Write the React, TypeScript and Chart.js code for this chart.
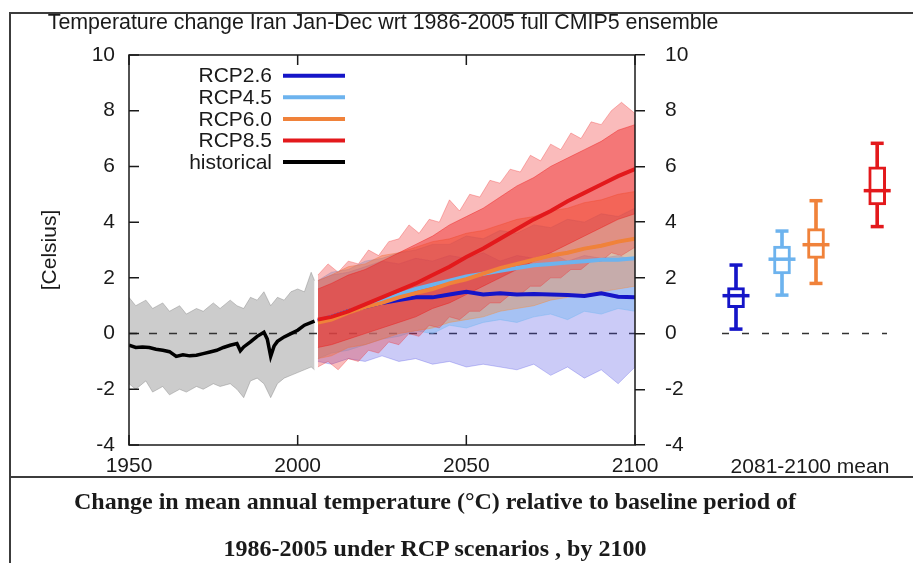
import React, { useEffect, useRef } from 'react';
import { Chart, registerables } from 'chart.js';

Chart.register(...registerables);

const SANS = '"Liberation Sans", Arial, Helvetica, sans-serif';
const SERIF = '"Liberation Serif", "Times New Roman", serif';
const INK = '#1a1a1a';

// ---------- texts ----------
const titleText = 'Temperature change Iran Jan-Dec wrt 1986-2005 full CMIP5 ensemble';
const yAxisTitle = '[Celsius]';
const boxAxisTitle = '2081-2100 mean';
const captionLines = [
  'Change in mean annual temperature (°C) relative to baseline period of',
  '1986-2005 under RCP scenarios , by 2100',
];

// ---------- axes ----------
const xTickValues = [1950, 2000, 2050, 2100];
const yTickMin = -4;
const yTickMax = 10;
const yTickStep = 2;

// ---------- series meta ----------
const scenarioLabels = ['RCP2.6', 'RCP4.5', 'RCP6.0', 'RCP8.5'];
const scenarioColors = ['#1515c8', '#6db3ee', '#f0823a', '#e3191c'];
const scenarioFills = [
  'rgba(70,70,225,0.28)',
  'rgba(110,180,240,0.40)',
  'rgba(245,140,60,0.40)',
  'rgba(240,45,45,0.32)',
];
const rcp85CoreFill = 'rgba(235,25,25,0.42)';
const histFill = 'rgba(120,120,120,0.38)';
const historicalLabel = 'historical';
const legendLabels = ['RCP2.6', 'RCP4.5', 'RCP6.0', 'RCP8.5', 'historical'];

// ---------- historical ----------
const histYears = [1950, 1952, 1954, 1956, 1958, 1960, 1962, 1964, 1966, 1968, 1970, 1972, 1974, 1976, 1978, 1980, 1982, 1983, 1984, 1986, 1988, 1990, 1991, 1992, 1993, 1994, 1996, 1998, 2000, 2002, 2005];
const histMean = [-0.42, -0.5, -0.48, -0.5, -0.56, -0.6, -0.65, -0.82, -0.76, -0.8, -0.78, -0.72, -0.66, -0.6, -0.5, -0.42, -0.36, -0.62, -0.48, -0.3, -0.1, 0.05, -0.2, -0.82, -0.45, -0.28, -0.12, 0.0, 0.12, 0.3, 0.45];
const histBandYears = [1950, 1952, 1955, 1957, 1960, 1962, 1965, 1967, 1970, 1972, 1975, 1977, 1980, 1982, 1984, 1986, 1988, 1990, 1992, 1994, 1996, 1998, 2000, 2002, 2004, 2005];
const histHi = [1.3, 1.0, 1.2, 0.9, 1.1, 0.8, 1.0, 0.7, 0.9, 0.8, 1.1, 0.9, 1.2, 1.0, 0.9, 1.3, 1.2, 1.5, 1.0, 1.3, 1.2, 1.5, 1.6, 1.5, 2.2, 1.9];
const histLo = [-1.8, -2.0, -1.7, -2.1, -1.9, -2.2, -2.0, -2.1, -1.9, -2.0, -1.8, -1.9, -1.8, -2.0, -2.3, -1.7, -1.6, -1.8, -2.3, -1.8, -1.6, -1.5, -1.4, -1.3, -1.2, -1.3];

// ---------- scenario means ----------
const futYears = [2006, 2010, 2015, 2020, 2025, 2030, 2035, 2040, 2045, 2050, 2055, 2060, 2065, 2070, 2075, 2080, 2085, 2090, 2095, 2100];
const rcp26Mean = [0.45, 0.6, 0.8, 0.95, 1.1, 1.2, 1.3, 1.3, 1.4, 1.5, 1.4, 1.45, 1.4, 1.42, 1.4, 1.38, 1.35, 1.45, 1.32, 1.3];
const rcp45Mean = [0.45, 0.6, 0.8, 1.0, 1.2, 1.4, 1.6, 1.75, 1.9, 2.05, 2.15, 2.25, 2.35, 2.45, 2.5, 2.55, 2.6, 2.65, 2.65, 2.7];
const rcp60Mean = [0.4, 0.5, 0.75, 0.95, 1.1, 1.3, 1.45, 1.6, 1.8, 1.95, 2.15, 2.35, 2.5, 2.65, 2.8, 2.9, 3.05, 3.15, 3.3, 3.4];
const rcp85Mean = [0.5, 0.6, 0.8, 1.05, 1.3, 1.55, 1.8, 2.1, 2.4, 2.75, 3.05, 3.4, 3.75, 4.1, 4.4, 4.75, 5.05, 5.35, 5.65, 5.9];

// ---------- scenario ensemble spread ----------
const rcp26Hi = [1.9, 2.1, 2.2, 2.4, 2.6, 2.5, 2.7, 2.6, 2.8, 2.7, 2.9, 2.6, 2.8, 2.7, 2.9, 2.6, 2.8, 2.7, 2.8, 2.6];
const rcp26Lo = [-1.0, -1.1, -0.9, -1.0, -0.8, -1.0, -0.9, -1.1, -1.0, -1.2, -1.1, -1.2, -1.3, -1.1, -1.5, -1.2, -1.6, -1.3, -1.8, -1.2];
const rcp45Hi = [1.9, 2.2, 2.3, 2.6, 2.7, 2.9, 3.0, 3.2, 3.2, 3.5, 3.4, 3.7, 3.6, 3.9, 3.8, 4.1, 4.0, 4.3, 4.2, 4.5];
const rcp45Lo = [-0.9, -0.7, -0.6, -0.4, -0.2, -0.1, 0.1, 0.0, 0.3, 0.2, 0.4, 0.5, 0.4, 0.6, 0.7, 0.5, 0.8, 0.7, 0.9, 0.8];
const rcp60Hi = [1.9, 2.1, 2.4, 2.5, 2.8, 2.9, 3.1, 3.3, 3.4, 3.6, 3.7, 3.9, 4.1, 4.2, 4.4, 4.5, 4.7, 4.8, 5.0, 5.1];
const rcp60Lo = [-0.9, -0.8, -0.5, -0.4, -0.2, 0.0, 0.1, 0.2, 0.4, 0.5, 0.6, 0.8, 0.9, 1.0, 1.2, 1.3, 1.4, 1.5, 1.6, 1.7];
const rcp85BandYears = [2006, 2009, 2012, 2015, 2018, 2021, 2024, 2027, 2030, 2033, 2036, 2039, 2042, 2045, 2048, 2051, 2054, 2057, 2060, 2063, 2066, 2069, 2072, 2075, 2078, 2081, 2084, 2087, 2090, 2093, 2096, 2100];
const rcp85Hi = [2.1, 2.5, 2.2, 2.6, 2.5, 3.0, 2.8, 3.3, 3.4, 3.9, 3.6, 4.1, 4.0, 4.8, 4.4, 5.0, 4.9, 5.5, 5.4, 5.9, 5.8, 6.4, 6.2, 6.8, 6.6, 7.2, 7.0, 7.6, 7.5, 8.0, 8.3, 7.9];
const rcp85Lo = [-1.2, -1.0, -1.3, -0.9, -1.0, -0.6, -0.7, -0.3, -0.4, 0.0, -0.1, 0.3, 0.2, 0.6, 0.5, 0.8, 0.8, 1.1, 1.1, 1.4, 1.4, 1.7, 1.7, 2.0, 2.0, 2.3, 2.3, 2.6, 2.6, 2.9, 2.8, 3.1];
// dense core of the RCP8.5 ensemble
const rcp85CoreHi = [1.6, 1.8, 2.1, 2.3, 2.6, 2.9, 3.2, 3.5, 3.9, 4.2, 4.5, 4.9, 5.3, 5.6, 6.0, 6.3, 6.6, 6.9, 7.3, 7.5];
const rcp85CoreLo = [-0.5, -0.4, -0.2, 0.0, 0.2, 0.4, 0.6, 0.9, 1.1, 1.4, 1.7, 2.0, 2.3, 2.6, 2.9, 3.2, 3.5, 3.8, 4.1, 4.3];

// ---------- zero reference ----------
const zeroLineYears = [1950, 2100];
const zeroBoxSpan = [0.3, 4.425];

// ---------- 2081-2100 box plots ----------
const boxPositions = [0.65, 1.8, 2.65, 4.18];
const boxMin = [0.16, 1.38, 1.8, 3.84];
const boxQ1 = [0.93, 2.14, 2.7, 4.62];
const boxMedian = [1.36, 2.67, 3.19, 5.13];
const boxQ3 = [1.65, 3.14, 3.77, 5.99];
const boxMax = [2.46, 3.68, 4.77, 6.83];

const pts = (xs: number[], ys: number[]) => xs.map((x, i) => ({ x, y: ys[i] }));

function meanLine(label: string, xs: number[], ys: number[], color: string, width: number, order: number) {
  return {
    type: 'line', label, data: pts(xs, ys), borderColor: color, borderWidth: width,
    pointRadius: 0, fill: false, tension: 0, order,
  };
}
function bandLo(xs: number[], ys: number[], fillColor: string, order: number) {
  return {
    type: 'line', label: '', data: pts(xs, ys), borderColor: fillColor, borderWidth: 1,
    pointRadius: 0, fill: false, tension: 0, order,
  };
}
function bandHi(xs: number[], ys: number[], fillColor: string, order: number, target: number) {
  return {
    type: 'line', label: '', data: pts(xs, ys), borderColor: fillColor, borderWidth: 1,
    backgroundColor: fillColor, pointRadius: 0, fill: target, tension: 0, order,
  };
}

const framePlugin = {
  id: 'frameTicksLegend',
  afterDatasetsDraw(chart: any) {
    const { ctx, chartArea: a, scales } = chart;
    ctx.save();
    ctx.strokeStyle = INK;
    ctx.lineWidth = 1.5;
    ctx.strokeRect(a.left, a.top, a.right - a.left, a.bottom - a.top);
    ctx.beginPath();
    const ys = scales.y;
    ys.ticks.forEach((t: any) => {
      const py = ys.getPixelForValue(t.value);
      ctx.moveTo(a.left, py);
      ctx.lineTo(a.left + 10, py);
    });
    const xs = scales.x;
    xs.ticks.forEach((t: any) => {
      const px = xs.getPixelForValue(t.value);
      ctx.moveTo(px, a.top);
      ctx.lineTo(px, a.top + 10);
      ctx.moveTo(px, a.bottom);
      ctx.lineTo(px, a.bottom - 10);
    });
    ctx.stroke();

    // legend
    ctx.font = `21px ${SANS}`;
    ctx.textAlign = 'right';
    ctx.textBaseline = 'middle';
    legendLabels.forEach((lbl, i) => {
      const ds = chart.data.datasets.find((d: any) => d.label === lbl);
      if (!ds) return;
      const y = a.top + 20.7 + i * 21.6;
      ctx.fillStyle = INK;
      ctx.fillText(lbl, a.left + 143, y + 1);
      ctx.strokeStyle = ds.borderColor;
      ctx.lineWidth = 4;
      ctx.beginPath();
      ctx.moveTo(a.left + 154, y);
      ctx.lineTo(a.left + 216, y);
      ctx.stroke();
    });
    ctx.restore();
  },
};

function mainConfig(): any {
  const datasets: any[] = [
    meanLine(historicalLabel, histYears, histMean, '#000000', 3.5, 0), // 0
    meanLine(scenarioLabels[3], futYears, rcp85Mean, scenarioColors[3], 4, 0), // 1
    meanLine(scenarioLabels[2], futYears, rcp60Mean, scenarioColors[2], 4, 1), // 2
    meanLine(scenarioLabels[1], futYears, rcp45Mean, scenarioColors[1], 4, 2), // 3
    meanLine(scenarioLabels[0], futYears, rcp26Mean, scenarioColors[0], 4, 3), // 4
    bandLo(futYears, rcp85CoreLo, rcp85CoreFill, 4.5), // 5
    bandHi(futYears, rcp85CoreHi, rcp85CoreFill, 4.5, 5), // 6
    bandLo(rcp85BandYears, rcp85Lo, scenarioFills[3], 5), // 7
    bandHi(rcp85BandYears, rcp85Hi, scenarioFills[3], 5, 7), // 8
    bandLo(futYears, rcp60Lo, scenarioFills[2], 6), // 9
    bandHi(futYears, rcp60Hi, scenarioFills[2], 6, 9), // 10
    bandLo(futYears, rcp45Lo, scenarioFills[1], 7), // 11
    bandHi(futYears, rcp45Hi, scenarioFills[1], 7, 11), // 12
    bandLo(futYears, rcp26Lo, scenarioFills[0], 8), // 13
    bandHi(futYears, rcp26Hi, scenarioFills[0], 8, 13), // 14
    {
      type: 'line', label: '', data: zeroLineYears.map((x) => ({ x, y: 0 })), borderColor: '#333',
      borderWidth: 1.5, borderDash: [8, 12], pointRadius: 0, fill: false, order: 8.5,
    }, // 15
    bandLo(histBandYears, histLo, histFill, 9), // 16
    bandHi(histBandYears, histHi, histFill, 9, 16), // 17
  ];
  const tickFont = { size: 21, family: SANS };
  return {
    type: 'line',
    data: { datasets },
    options: {
      responsive: false, animation: false, devicePixelRatio: 1, events: [],
      layout: { padding: 0, autoPadding: false },
      plugins: {
        legend: { display: false },
        tooltip: { enabled: false },
        title: {
          display: true, text: titleText, color: INK,
          font: { size: 21.4, family: SANS, weight: 'normal' },
          padding: { top: 10, bottom: 19.3 },
        },
      },
      scales: {
        x: {
          type: 'linear', min: xTickValues[0], max: xTickValues[xTickValues.length - 1],
          afterBuildTicks: (s: any) => { s.ticks = xTickValues.map((v) => ({ value: v })); },
          ticks: { autoSkip: false, maxRotation: 0, padding: 9, font: tickFont, color: INK, callback: (v: any) => String(v) },
          grid: { display: false, drawTicks: false },
          border: { display: false },
          afterFit: (s: any) => { s.height = 118; },
        },
        y: {
          type: 'linear', position: 'left', min: yTickMin, max: yTickMax,
          ticks: { stepSize: yTickStep, padding: 14, font: tickFont, color: INK, callback: (v: any) => String(v) },
          grid: { display: false, drawTicks: false },
          border: { display: false },
          title: { display: true, text: yAxisTitle, color: INK, font: { size: 21, family: SANS }, padding: { top: 38, bottom: 0 } },
          afterFit: (s: any) => { s.width = 129; },
        },
        y2: {
          type: 'linear', position: 'right', min: yTickMin, max: yTickMax,
          ticks: { stepSize: yTickStep, padding: 20, font: tickFont, color: INK, callback: (v: any) => String(v) },
          grid: { drawOnChartArea: false, drawTicks: true, tickLength: 10, color: INK, lineWidth: 1.5 },
          border: { display: false },
          afterFit: (s: any) => { s.width = 131; },
        },
      },
    },
    plugins: [framePlugin],
  };
}

function boxConfig(): any {
  return {
    type: 'scatter',
    data: {
      datasets: [
        {
          type: 'scatter', data: pts(boxPositions, boxMedian), pointStyle: 'line', pointRadius: 13.5,
          pointBorderWidth: 3.5, pointBorderColor: scenarioColors, order: 0,
        },
        {
          type: 'scatter', data: [...pts(boxPositions, boxMin), ...pts(boxPositions, boxMax)], pointStyle: 'line',
          pointRadius: 6.5, pointBorderWidth: 3.5, pointBorderColor: [...scenarioColors, ...scenarioColors], order: 1,
        },
        {
          type: 'bar', data: boxPositions.map((x, i) => ({ x, y: [boxQ1[i], boxQ3[i]] })),
          backgroundColor: '#ffffff', borderColor: scenarioColors, borderWidth: 3, borderSkipped: false,
          barThickness: 17, grouped: false, order: 2,
        },
        {
          type: 'bar', data: boxPositions.map((x, i) => ({ x, y: [boxMin[i], boxMax[i]] })),
          backgroundColor: scenarioColors, borderWidth: 0, barThickness: 3, grouped: false, order: 3,
        },
        {
          type: 'line', data: zeroBoxSpan.map((x) => ({ x, y: 0 })), borderColor: '#333', borderWidth: 1.5,
          borderDash: [7, 13], pointRadius: 0, showLine: true, fill: false, order: 4,
        },
      ],
    },
    options: {
      responsive: false, animation: false, devicePixelRatio: 1, events: [],
      layout: { padding: { left: 710, right: 3, top: 55, bottom: 0 }, autoPadding: false },
      plugins: { legend: { display: false }, tooltip: { enabled: false }, title: { display: false } },
      scales: {
        x: {
          type: 'linear', min: 0, max: 5, offset: false,
          grid: { display: false, drawTicks: false, offset: false }, border: { display: false }, ticks: { display: false },
          title: { display: true, text: boxAxisTitle, color: INK, font: { size: 21, family: SANS }, padding: { top: 0, bottom: 83.4 } },
          afterFit: (s: any) => { s.height = 118; },
        },
        y: { type: 'linear', min: yTickMin, max: yTickMax, display: false },
      },
    },
  };
}

export default function App() {
  const mainRef = useRef<HTMLCanvasElement>(null);
  const boxRef = useRef<HTMLCanvasElement>(null);

  useEffect(() => {
    const main = new Chart(mainRef.current as HTMLCanvasElement, mainConfig());
    const box = new Chart(boxRef.current as HTMLCanvasElement, boxConfig());
    return () => {
      main.destroy();
      box.destroy();
    };
  }, []);

  const lineStyle = { position: 'absolute' as const, background: '#3c3c3c' };

  return (
    <div style={{ position: 'absolute', left: 0, top: 0, width: 913, height: 563, background: '#ffffff', overflow: 'hidden' }}>
      <canvas ref={mainRef} width={766} height={563} style={{ position: 'absolute', left: 0, top: 0, width: 766, height: 563 }} />
      <canvas ref={boxRef} width={913} height={563} style={{ position: 'absolute', left: 0, top: 0, width: 913, height: 563 }} />
      <div style={{ ...lineStyle, left: 9, top: 12, width: 904, height: 2 }} />
      <div style={{ ...lineStyle, left: 9, top: 12, width: 2, height: 551 }} />
      <div style={{ ...lineStyle, left: 9, top: 476, width: 904, height: 2 }} />
      <div
        style={{
          position: 'absolute', left: 0, top: 478, width: 870, textAlign: 'center',
          fontFamily: SERIF, fontWeight: 'bold', fontSize: 24, lineHeight: '47px', color: '#1a1a1a',
        }}
      >
        {captionLines.map((l, i) => (
          <div key={i}>{l}</div>
        ))}
      </div>
    </div>
  );
}
